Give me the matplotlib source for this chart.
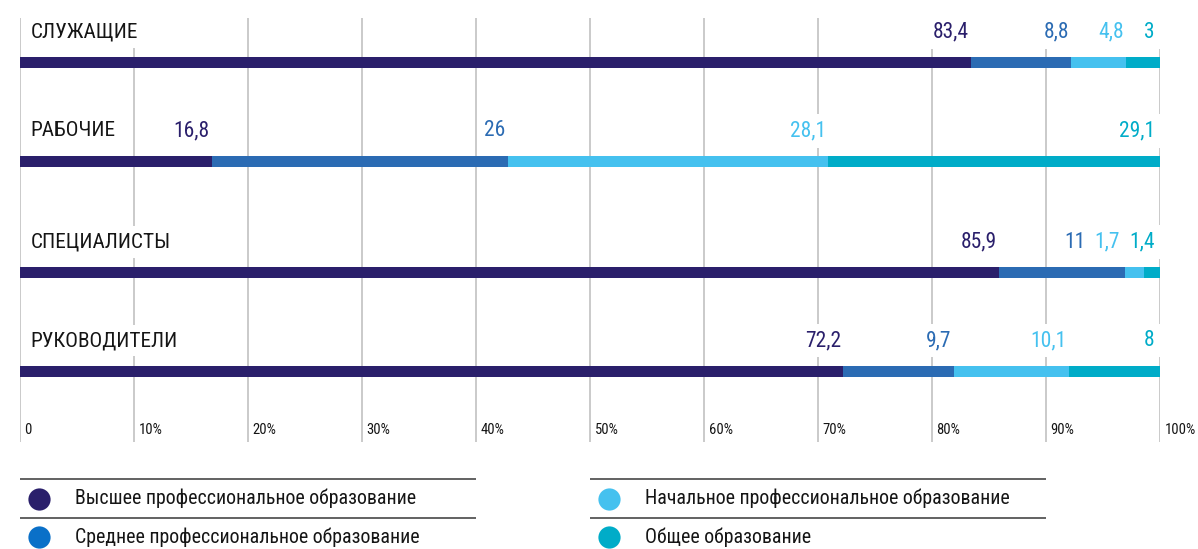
import matplotlib
matplotlib.use("Agg")
import matplotlib.pyplot as plt
from matplotlib import font_manager
import numpy as np

# --- data -------------------------------------------------------------
categories = ["СЛУЖАЩИЕ", "РАБОЧИЕ", "СПЕЦИАЛИСТЫ", "РУКОВОДИТЕЛИ"]
series_names = [
    "Высшее профессиональное образование",
    "Среднее профессиональное образование",
    "Начальное профессиональное образование",
    "Общее образование",
]
higher = [83.4, 16.8, 85.9, 72.2]
secondary = [8.8, 26, 11, 9.7]
primary = [4.8, 28.1, 1.7, 10.1]
general = [3, 29.1, 1.4, 8]
tick_values = [0, 10, 20, 30, 40, 50, 60, 70, 80, 90, 100]
tick_labels = ["0", "10%", "20%", "30%", "40%", "50%", "60%", "70%", "80%", "90%", "100%"]

# --- style ------------------------------------------------------------
bar_colors = ["#2a1f6b", "#2b6bb3", "#45c1ef", "#00acc8"]
legend_colors = ["#2a1f6b", "#0a70c8", "#45c1ef", "#00acc8"]
grid_color = "#c6c6c6"
text_color = "#151515"

W, H = 1198, 549
bar_rows = [62.5, 161.5, 272.5, 371]   # vertical layout of the bars (pixel rows)
bar_h = 11


def condensed_font():
    """Pick a narrow sans-serif face if one is installed."""
    wanted = ["Liberation Sans Narrow", "Roboto Condensed", "Open Sans Condensed",
              "Noto Sans Condensed", "DejaVu Sans Condensed"]
    entries = font_manager.fontManager.ttflist
    for name in wanted:
        for f in entries:
            if f.name == name and f.weight in (400, "normal", "regular") and f.style == "normal":
                return font_manager.FontProperties(fname=f.fname)
    for f in entries:
        if str(f.stretch) in ("condensed", "semi-condensed") and f.style == "normal" \
                and f.weight in (400, "normal", "regular"):
            return font_manager.FontProperties(fname=f.fname)
    return font_manager.FontProperties(family="Liberation Sans")


FP = condensed_font()


def fp(size):
    p = FP.copy()
    p.set_size(size)
    return p


fig = plt.figure(figsize=(W / 100, H / 100), dpi=100)
# x axis: 0 % at pixel 20, 100 % at pixel 1160; y axis in pixel rows
ax = fig.add_axes([20 / W, 0, 1140 / W, 1])
ax.set_xlim(0, 100)
ax.set_ylim(H, 0)
ax.axis("off")

# vertical grid
ax.vlines(tick_values, 18, 442, color=grid_color, lw=1.3, zorder=0)
for v, lab in zip(tick_values, tick_labels):
    ax.text(v + 0.4, 430, lab, fontproperties=fp(10.5), color=text_color,
            ha="left", va="center", clip_on=False)

# stacked bars
values = np.array([higher, secondary, primary, general])
lefts = np.zeros(len(categories))
for k in range(values.shape[0]):
    ax.barh(bar_rows, values[k], left=lefts, height=bar_h, color=bar_colors[k],
            edgecolor="none", zorder=2)
    lefts = lefts + values[k]

box = dict(boxstyle="square,pad=0.3", facecolor="white", edgecolor="none")

fig.canvas.draw()
renderer = fig.canvas.get_renderer()
px_per_unit = 1140 / 100.0

for i, cat in enumerate(categories):
    ybase = bar_rows[i] - 25
    ax.text(0.9, ybase, cat, fontproperties=fp(15.3), color=text_color,
            ha="left", va="baseline", bbox=box, zorder=3)
    ends = np.cumsum(values[:, i])
    # place value labels from right to left, keeping them apart
    limit = None
    for k in range(values.shape[0] - 1, -1, -1):
        val = values[k, i]
        txt = f"{val:g}".replace(".", ",")
        right = ends[k] - (0.45 if ends[k] >= 99.9 else 0.2)
        if limit is not None:
            right = min(right, limit)
        t = ax.text(right, ybase, txt, fontproperties=fp(15.5), color=bar_colors[k],
                    ha="right", va="baseline", bbox=box, zorder=3)
        bb = t.get_window_extent(renderer)
        width_units = bb.width / px_per_unit
        limit = right - width_units - 0.8

# legend
leg_rows = [(0, 0), (0, 1), (50, 0), (50, 1)]
for k, name in enumerate(series_names):
    x0, r = leg_rows[k]
    line_y = 479 + r * 38.5
    ax.plot([x0, x0 + 40], [line_y, line_y], color="#555555", lw=1.3,
            solid_capstyle="butt", clip_on=False)
    cy = line_y + 19.5
    ax.plot([x0 + 1.65], [cy], "o", ms=16, color=legend_colors[k], mec="none",
            clip_on=False)
    ax.text(x0 + 4.8, cy, name, fontproperties=fp(14.3), color=text_color,
            ha="left", va="center", clip_on=False)

fig.savefig("out.png", dpi=100, facecolor="white")
